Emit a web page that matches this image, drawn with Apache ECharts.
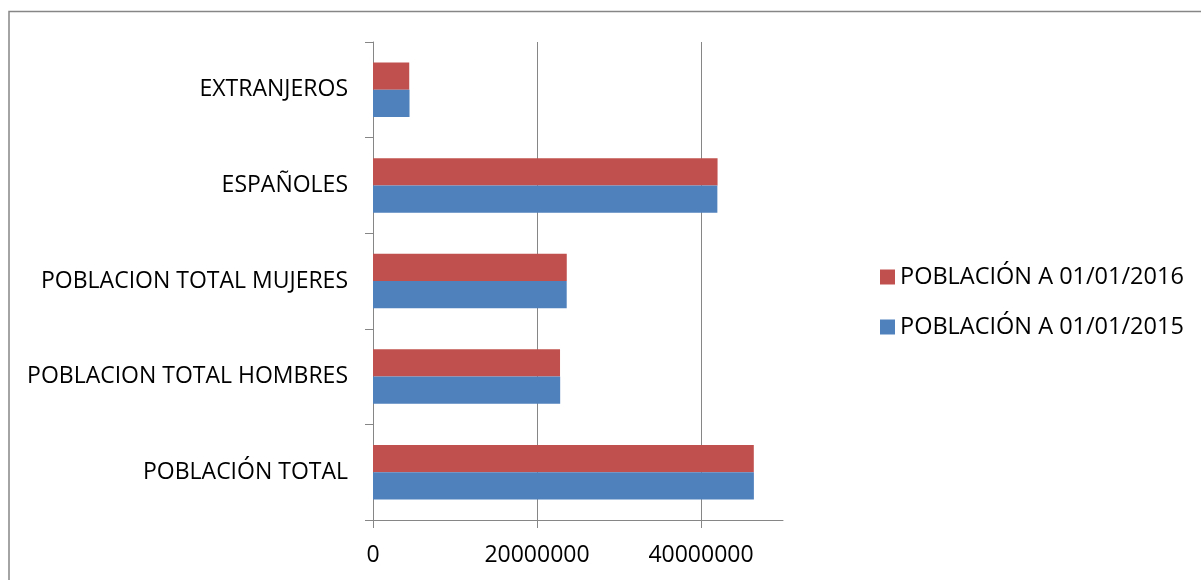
<!DOCTYPE html>
<html>
<head>
<meta charset="utf-8">
<script src="https://cdn.jsdelivr.net/npm/echarts@6/dist/echarts.min.js"></script>
<style>
html,body{margin:0;padding:0;background:#fff;}
#c{width:1201px;height:580px;}
</style>
</head>
<body>
<div id="c"></div>
<script>
const categories = ['POBLACIÓN TOTAL', 'POBLACION TOTAL HOMBRES', 'POBLACION TOTAL MUJERES', 'ESPAÑOLES', 'EXTRANJEROS'];
const seriesNames = ['POBLACIÓN A 01/01/2015', 'POBLACIÓN A 01/01/2016'];
const values2015 = [46449565, 22826546, 23623019, 41995212, 4454353];
const values2016 = [46438422, 22809090, 23629332, 42019525, 4418898];
const xTicks = [0, 20000000, 40000000];

const FONT = 'Open Sans';
const GRAY = '#868686';
const chart = echarts.init(document.getElementById('c'), null, {renderer: 'canvas'});
chart.setOption({
  animation: false,
  backgroundColor: '#fff',
  graphic: [{
    type: 'rect', shape: {x: 9, y: 11.5, width: 1400, height: 800},
    style: {fill: 'none', stroke: GRAY, lineWidth: 1.5}, silent: true
  }],
  legend: {
    orient: 'vertical', left: 875, top: 260,
    itemWidth: 15, itemHeight: 15, itemGap: 26, icon: 'rect',
    data: [seriesNames[1], seriesNames[0]],
    textStyle: {fontFamily: FONT, fontSize: 23.5, color: '#000'}
  },
  grid: {left: 373, right: 418, top: 42, bottom: 60, containLabel: false},
  xAxis: {
    type: 'value', min: 0, max: 50000000, interval: 20000000,
    axisLine: {show: true, lineStyle: {color: GRAY, width: 1}},
    axisTick: {show: true, length: 8, lineStyle: {color: GRAY}, customValues: xTicks},
    axisLabel: {fontFamily: FONT, fontSize: 23, color: '#000', margin: 24, showMaxLabel: false,
      formatter: v => String(v)},
    splitLine: {show: true, lineStyle: {color: GRAY, width: 1}}
  },
  yAxis: {
    type: 'category', data: categories,
    axisLine: {show: true, lineStyle: {color: GRAY, width: 1}},
    axisTick: {show: true, length: 8, lineStyle: {color: GRAY}},
    axisLabel: {fontFamily: FONT, fontSize: 23, color: '#000', margin: 25}
  },
  series: [
    {name: seriesNames[1], type: 'bar', data: values2016, itemStyle: {color: '#C0504D'}, barGap: '0%', barCategoryGap: '43%'},
    {name: seriesNames[0], type: 'bar', data: values2015, itemStyle: {color: '#4F81BD'}, barGap: '0%', barCategoryGap: '43%'}
  ]
});
</script>
</body>
</html>
